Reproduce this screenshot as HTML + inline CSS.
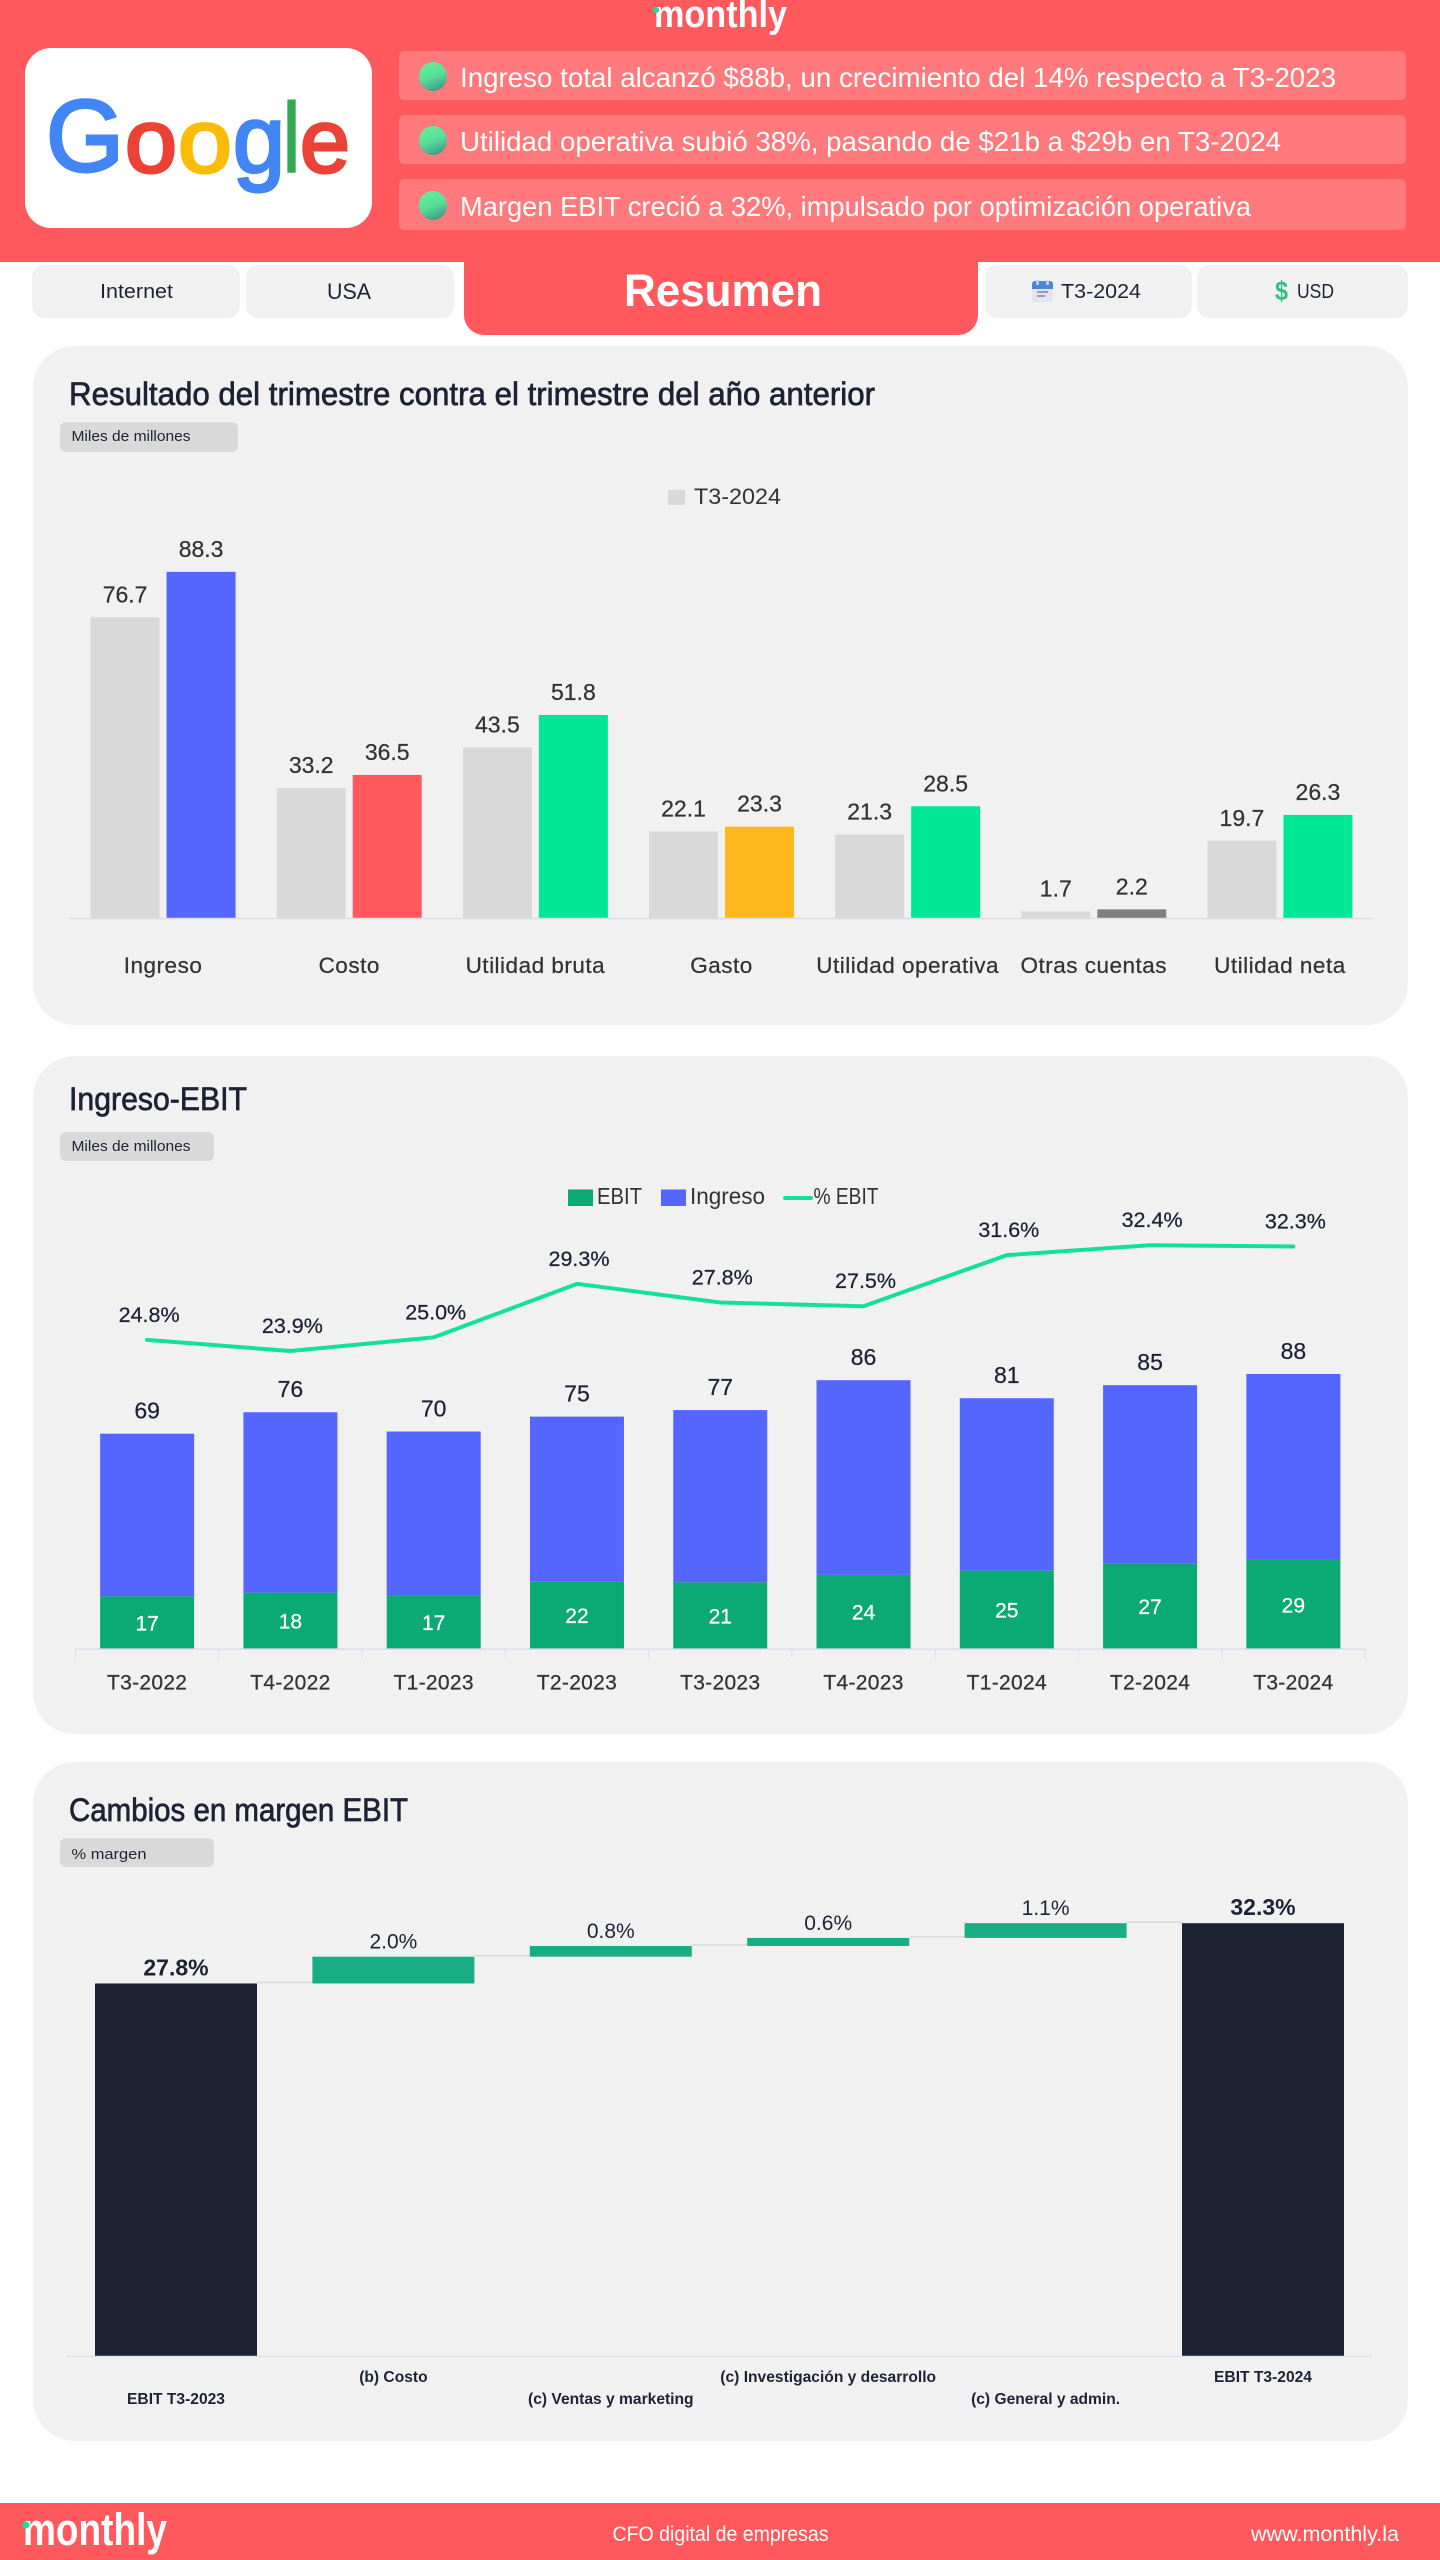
<!DOCTYPE html>
<html lang="es">
<head>
<meta charset="utf-8">
<title>Monthly - Google T3-2024</title>
<style>
html,body{margin:0;padding:0;background:#fff;}
body{width:1440px;height:2560px;overflow:hidden;}
svg{display:block;font-family:"Liberation Sans",Arial,sans-serif;}
</style>
</head>
<body>
<svg id="page" xmlns="http://www.w3.org/2000/svg" width="1440" height="2560" viewBox="0 0 1440 2560">
  <defs>
    <linearGradient id="dotGrad" x1="0.2" y1="0" x2="0.6" y2="1">
      <stop offset="0" stop-color="#62f29c"/>
      <stop offset="0.55" stop-color="#58dc96"/>
      <stop offset="1" stop-color="#3d9a8c"/>
    </linearGradient>
  </defs>

  <g>
    <rect x="0" y="0" width="1440" height="262" fill="#ff585d"/>
    <text x="654" y="27" font-size="38" font-weight="bold" fill="#fff" textLength="133" lengthAdjust="spacingAndGlyphs">monthly</text>
    <circle cx="656" cy="10" r="3" fill="#12e29a"/>

    <g>
      <rect x="25" y="48" width="347" height="180" rx="26" fill="#fff"/>
      <text x="46" y="171" font-size="102" fill="#4285f4" stroke="#4285f4" stroke-width="3" textLength="78" lengthAdjust="spacingAndGlyphs">G</text>
      <text x="125" y="172" font-size="90" fill="#ea4335" stroke="#ea4335" stroke-width="3" textLength="52" lengthAdjust="spacingAndGlyphs">o</text>
      <text x="178" y="172" font-size="90" fill="#fbbc05" stroke="#fbbc05" stroke-width="3" textLength="54" lengthAdjust="spacingAndGlyphs">o</text>
      <text x="233" y="172" font-size="96" fill="#4285f4" stroke="#4285f4" stroke-width="3" textLength="52" lengthAdjust="spacingAndGlyphs">g</text>
      <text x="283" y="172" font-size="98" fill="#34a853" stroke="#34a853" stroke-width="2" textLength="17" lengthAdjust="spacingAndGlyphs">l</text>
      <text x="300" y="172" font-size="90" fill="#ea4335" stroke="#ea4335" stroke-width="3" textLength="50" lengthAdjust="spacingAndGlyphs">e</text>
    </g>

    <g>
      <rect x="399" y="51" width="1007" height="49" rx="5" fill="#ff797d"/>
      <ellipse cx="433" cy="76.5" rx="14" ry="14.5" fill="url(#dotGrad)"/>
      <text x="460" y="87" font-size="28" fill="#fff" textLength="876" lengthAdjust="spacingAndGlyphs">Ingreso total alcanzó $88b, un crecimiento del 14% respecto a T3-2023</text>
    </g>
    <g>
      <rect x="399" y="115" width="1007" height="49" rx="5" fill="#ff797d"/>
      <ellipse cx="433" cy="140.5" rx="14" ry="14.5" fill="url(#dotGrad)"/>
      <text x="460" y="151" font-size="28" fill="#fff" textLength="821" lengthAdjust="spacingAndGlyphs">Utilidad operativa subió 38%, pasando de $21b a $29b en T3-2024</text>
    </g>
    <g>
      <rect x="399" y="179" width="1007" height="51" rx="5" fill="#ff797d"/>
      <ellipse cx="433" cy="205.5" rx="14" ry="14.5" fill="url(#dotGrad)"/>
      <text x="460" y="216" font-size="28" fill="#fff" textLength="791" lengthAdjust="spacingAndGlyphs">Margen EBIT creció a 32%, impulsado por optimización operativa</text>
    </g>
  </g>

  <g>
    <g>
      <rect x="32" y="265" width="208" height="53" rx="12" fill="#f1f1f2"/>
      <text x="100" y="298" font-size="20" fill="#1e2235" textLength="73" lengthAdjust="spacingAndGlyphs">Internet</text>
    </g>
    <g>
      <rect x="246" y="265" width="208" height="53" rx="12" fill="#f1f1f2"/>
      <text x="327" y="299" font-size="22" fill="#1e2235" textLength="44" lengthAdjust="spacingAndGlyphs">USA</text>
    </g>
    <g>
      <path d="M464 262H978V315a20 20 0 0 1-20 20H484a20 20 0 0 1-20-20Z" fill="#ff585d"/>
      <text x="624" y="306" font-size="45" font-weight="bold" fill="#fff" textLength="198" lengthAdjust="spacingAndGlyphs">Resumen</text>
    </g>
    <g>
      <rect x="985" y="265" width="207" height="53" rx="12" fill="#f1f1f2"/>
      <g>
        <rect x="1032" y="281" width="21" height="21" rx="3" fill="#e6e2f2"/>
        <path d="M1032 289v-5a3 3 0 0 1 3-3h15a3 3 0 0 1 3 3v5Z" fill="#4a86e0"/>
        <rect x="1036" y="280" width="3" height="5" rx="1" fill="#c9cdd8"/>
        <rect x="1046" y="280" width="3" height="5" rx="1" fill="#c9cdd8"/>
        <rect x="1037" y="291" width="11" height="2" fill="#9a9db0"/>
        <rect x="1037" y="295" width="8" height="2" fill="#9a9db0"/>
      </g>
      <text x="1061" y="298" font-size="20" fill="#1e2235" textLength="80" lengthAdjust="spacingAndGlyphs">T3-2024</text>
    </g>
    <g>
      <rect x="1197" y="265" width="211" height="53" rx="12" fill="#f1f1f2"/>
      <text x="1275" y="300" font-size="27" font-weight="bold" fill="#32c07e" textLength="13" lengthAdjust="spacingAndGlyphs">$</text>
      <text x="1297" y="298" font-size="20" fill="#1e2235" textLength="37" lengthAdjust="spacingAndGlyphs">USD</text>
    </g>
  </g>

  <g>
    <rect x="33" y="346" width="1375" height="679" rx="42" fill="#f1f1f2"/>
    <text x="69" y="405" font-size="32" fill="#1e2235" stroke="#1e2235" stroke-width=".7" textLength="806" lengthAdjust="spacingAndGlyphs">Resultado del trimestre contra el trimestre del año anterior</text>
    <rect x="60" y="422" width="178" height="30" rx="6" fill="#d9d9d9"/>
    <text x="71.5" y="441" font-size="15" fill="#1e2235" textLength="119" lengthAdjust="spacingAndGlyphs">Miles de millones</text>
    <g>
      <rect x="668" y="490" width="17" height="15" fill="#d9d9d9"/>
      <text x="694" y="504" font-size="22" fill="#333" textLength="87" lengthAdjust="spacingAndGlyphs">T3-2024</text>
    </g>
    <g id="chart1"></g>
  </g>

  <g>
    <rect x="33" y="1056" width="1375" height="678" rx="42" fill="#f1f1f2"/>
    <text x="69" y="1110" font-size="32" fill="#1e2235" stroke="#1e2235" stroke-width=".7" textLength="178" lengthAdjust="spacingAndGlyphs">Ingreso-EBIT</text>
    <rect x="60" y="1132" width="154" height="29" rx="6" fill="#d9d9d9"/>
    <text x="71.5" y="1151" font-size="15" fill="#1e2235" textLength="119" lengthAdjust="spacingAndGlyphs">Miles de millones</text>
    <g>
      <rect x="568" y="1189.5" width="25" height="16.5" fill="#0ba974"/>
      <text x="597" y="1204" font-size="23" fill="#333" textLength="45" lengthAdjust="spacingAndGlyphs">EBIT</text>
    </g>
    <g>
      <rect x="661" y="1189.5" width="25" height="16.5" fill="#5566ff"/>
      <text x="690" y="1204" font-size="23" fill="#333" textLength="75" lengthAdjust="spacingAndGlyphs">Ingreso</text>
    </g>
    <g>
      <line x1="785" y1="1198" x2="811" y2="1198" stroke="#14e09c" stroke-width="4" stroke-linecap="round"/>
      <text x="813.5" y="1204" font-size="23" fill="#333" textLength="65" lengthAdjust="spacingAndGlyphs">% EBIT</text>
    </g>
    <g id="chart2"></g>
  </g>

  <g>
    <rect x="33" y="1762" width="1375" height="679" rx="42" fill="#f1f1f2"/>
    <text x="69" y="1821" font-size="32" fill="#1e2235" stroke="#1e2235" stroke-width=".7" textLength="339" lengthAdjust="spacingAndGlyphs">Cambios en margen EBIT</text>
    <rect x="60" y="1838" width="154" height="29" rx="6" fill="#d9d9d9"/>
    <text x="71.5" y="1859" font-size="15" fill="#1e2235" textLength="75" lengthAdjust="spacingAndGlyphs">% margen</text>
    <g id="chart3"></g>
  </g>

  <g>
    <rect x="0" y="2503" width="1440" height="57" fill="#ff585d"/>
    <text x="23" y="2545" font-size="45" font-weight="bold" fill="#fff" textLength="144" lengthAdjust="spacingAndGlyphs">monthly</text>
    <circle cx="26" cy="2525" r="3.5" fill="#12e29a"/>
    <text x="612.5" y="2541" font-size="21" fill="#fff" textLength="216" lengthAdjust="spacingAndGlyphs">CFO digital de empresas</text>
    <text x="1251" y="2541" font-size="21" fill="#fff" textLength="148" lengthAdjust="spacingAndGlyphs">www.monthly.la</text>
  </g>
</svg>

<script>
/* ---------- Chart 1 data ---------- */
const compareCategories = ["Ingreso", "Costo", "Utilidad bruta", "Gasto", "Utilidad operativa", "Otras cuentas", "Utilidad neta"];
const comparePrevious = [76.7, 33.2, 43.5, 22.1, 21.3, 1.7, 19.7];
const compareCurrent = [88.3, 36.5, 51.8, 23.3, 28.5, 2.2, 26.3];

/* ---------- Chart 2 data ---------- */
const trendQuarters = ["T3-2022", "T4-2022", "T1-2023", "T2-2023", "T3-2023", "T4-2023", "T1-2024", "T2-2024", "T3-2024"];
const trendRevenue = [69.1, 76.0, 69.8, 74.6, 76.7, 86.3, 80.5, 84.7, 88.3];
const trendEbit = [16.8, 18.0, 17.1, 21.5, 21.3, 23.7, 25.05, 27.3, 28.5];
const trendMargin = [24.8, 23.9, 25.0, 29.3, 27.8, 27.5, 31.6, 32.4, 32.3];

/* ---------- Chart 3 data ---------- */
const bridgeLabels = ["EBIT T3-2023", "(b) Costo", "(c) Ventas y marketing", "(c) Investigación y desarrollo", "(c) General y admin.", "EBIT T3-2024"];
const bridgeStart = [27.8];
const bridgeDeltas = [2.0, 0.8, 0.6, 1.1];
const bridgeEnd = [32.3];

const NS = "http://www.w3.org/2000/svg";
const INK = "#1e2235";
const GREY_TEXT = "#333";
const compareColors = ["#5566ff", "#ff585d", "#00e896", "#ffb71c", "#00e896", "#808080", "#00e896"];

function make(tag, attrs, parent, content) {
  const node = document.createElementNS(NS, tag);
  for (const key in attrs) node.setAttribute(key, attrs[key]);
  if (content !== undefined) node.textContent = content;
  parent.appendChild(node);
  return node;
}

/* ---------- Chart 1 ---------- */
(function () {
  const root = document.getElementById("chart1");
  const x0 = 70, x1 = 1373, base = 918, unit = 3.92, barW = 69, gap = 7;
  const band = (x1 - x0) / compareCategories.length;
  const xCenter = i => x0 + band * (i + 0.5);
  const y = v => base - v * unit;

  compareCategories.forEach((cat, i) => {
    const c = xCenter(i);
    const prevX = c - gap / 2 - barW;
    const curX = c + gap / 2;

    let el = make("rect", {x: prevX, y: y(comparePrevious[i]), width: barW, height: base - y(comparePrevious[i]), fill: "#d9d9d9"}, root);
    
    

    el = make("rect", {x: curX, y: y(compareCurrent[i]), width: barW, height: base - y(compareCurrent[i]), fill: compareColors[i]}, root);
    
    

    el = make("text", {x: prevX + barW / 2, y: y(comparePrevious[i]) - 15, "font-size": 23, fill: GREY_TEXT, stroke: GREY_TEXT, "stroke-width": 0.25, "text-anchor": "middle"}, root, comparePrevious[i].toFixed(1));
    
    

    el = make("text", {x: curX + barW / 2, y: y(compareCurrent[i]) - 15, "font-size": 23, fill: GREY_TEXT, stroke: GREY_TEXT, "stroke-width": 0.25, "text-anchor": "middle"}, root, compareCurrent[i].toFixed(1));
    
    

    el = make("text", {x: c, y: 973, "font-size": 22.5, "letter-spacing": 0.5, fill: GREY_TEXT, stroke: GREY_TEXT, "stroke-width": 0.25, "text-anchor": "middle"}, root, cat);
    
    
  });

  const axis = make("line", {x1: x0, x2: x1, y1: base + 0.5, y2: base + 0.5, stroke: "#dcdcea", "stroke-width": 1.5}, root);
  
  
})();

/* ---------- Chart 2 ---------- */
(function () {
  const root = document.getElementById("chart2");
  const x0 = 75.5, x1 = 1365, base = 1648.6, unit = 3.11, pctUnit = 12.45, barW = 94;
  const band = (x1 - x0) / trendQuarters.length;
  const xCenter = i => x0 + band * (i + 0.5);
  const y = v => base - v * unit;
  const yPct = p => base - p * pctUnit;

  trendQuarters.forEach((q, i) => {
    const c = xCenter(i);

    let el = make("rect", {x: c - barW / 2, y: y(trendRevenue[i]), width: barW, height: y(trendEbit[i]) - y(trendRevenue[i]), fill: "#5566ff"}, root);
    
    

    el = make("rect", {x: c - barW / 2, y: y(trendEbit[i]), width: barW, height: base - y(trendEbit[i]), fill: "#0ba974"}, root);
    
    

    el = make("text", {x: c, y: y(trendRevenue[i]) - 15, "font-size": 23, fill: INK, stroke: INK, "stroke-width": 0.25, "text-anchor": "middle"}, root, String(Math.round(trendRevenue[i])));
    
    

    el = make("text", {x: c, y: (y(trendEbit[i]) + base) / 2 + 8, "font-size": 21, fill: "#fff", stroke: "#fff", "stroke-width": 0.25, "text-anchor": "middle"}, root, String(Math.round(trendEbit[i])));
    
    

    el = make("text", {x: c, y: 1689.5, "font-size": 21, "letter-spacing": 0.3, fill: GREY_TEXT, stroke: GREY_TEXT, "stroke-width": 0.25, "text-anchor": "middle"}, root, q);
    
    

    el = make("text", {x: c + 2, y: yPct(trendMargin[i]) - 18, "font-size": 21.5, fill: INK, stroke: INK, "stroke-width": 0.25, "text-anchor": "middle"}, root, trendMargin[i].toFixed(1) + "%");
    
    
  });

  const axis = make("line", {x1: x0, x2: x1, y1: base + 0.5, y2: base + 0.5, stroke: "#dcdcea", "stroke-width": 1.5}, root);
  
  

  for (let i = 0; i <= trendQuarters.length; i++) {
    const tick = make("line", {x1: x0 + band * i, x2: x0 + band * i, y1: base, y2: base + 9.5, stroke: "#dcdcea", "stroke-width": 1}, root);
    
    
  }

  const points = trendMargin.map((p, i) => xCenter(i) + "," + yPct(p)).join(" ");
  const line = make("polyline", {points: points, fill: "none", stroke: "#14e09c", "stroke-width": 4, "stroke-linecap": "round", "stroke-linejoin": "round"}, root);
  
  
})();

/* ---------- Chart 3 ---------- */
(function () {
  const root = document.getElementById("chart3");
  const left = 95, step = 217.4, barW = 162, base = 2356, unit = 13.4;
  const x = i => left + step * i;
  const y = v => base - v * unit;
  const last = bridgeDeltas.length + 1;

  function label(i, value, bold, content) {
    return make("text", {x: x(i) + barW / 2, y: y(value) - 8, "font-size": bold ? 23 : 21, "font-weight": bold ? "bold" : "normal", fill: INK, "text-anchor": "middle"}, root, content);
  }

  let el = make("rect", {x: x(0), y: y(bridgeStart[0]), width: barW, height: base - y(bridgeStart[0]), fill: INK}, root);
  
  

  el = label(0, bridgeStart[0], true, bridgeStart[0].toFixed(1) + "%");
  
  

  let running = bridgeStart[0];
  bridgeDeltas.forEach((d, k) => {
    const i = k + 1;
    const next = running + d;

    const conn = make("line", {x1: x(i - 1) + barW, x2: x(i), y1: y(running) - 1, y2: y(running) - 1, stroke: "#d9d9d9", "stroke-width": 1.5}, root);
    
    

    const bar = make("rect", {x: x(i), y: y(next), width: barW, height: y(running) - y(next), fill: "#17ad85"}, root);
    
    

    const txt = label(i, next, false, d.toFixed(1) + "%");
    
    

    running = next;
  });

  el = make("line", {x1: x(last - 1) + barW, x2: x(last), y1: y(running) - 1, y2: y(running) - 1, stroke: "#d9d9d9", "stroke-width": 1.5}, root);
  
  

  el = make("rect", {x: x(last), y: y(bridgeEnd[0]), width: barW, height: base - y(bridgeEnd[0]), fill: INK}, root);
  
  

  el = label(last, bridgeEnd[0], true, bridgeEnd[0].toFixed(1) + "%");
  
  

  el = make("line", {x1: 67, x2: 1372, y1: base + 0.5, y2: base + 0.5, stroke: "#dcdcee", "stroke-width": 1.5}, root);
  
  

  bridgeLabels.forEach((name, i) => {
    const isLowerRow = i % 2 === 0 && i !== last;
    const t = make("text", {x: x(i) + barW / 2, y: isLowerRow ? 2404 : 2382, "font-size": 15.6, "font-weight": "bold", fill: INK, "text-anchor": "middle"}, root, name);
    
    
  });
})();
</script>
</body>
</html>
